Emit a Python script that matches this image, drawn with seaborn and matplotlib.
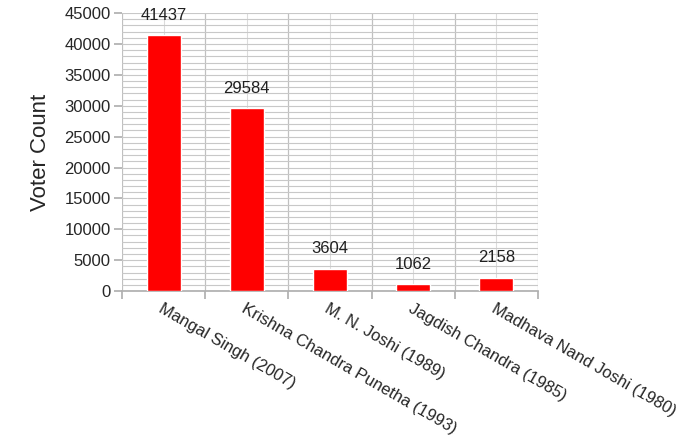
import numpy as np
import pandas as pd
import matplotlib
matplotlib.use("Agg")
import matplotlib.pyplot as plt
import matplotlib.ticker as mticker
import seaborn as sns

# ── Data ────────────────────────────────────────────────────────────────────
candidates = [
    "Mangal Singh (2007)",
    "Krishna Chandra Punetha (1993)",
    "M. N. Joshi (1989)",
    "Jagdish Chandra (1985)",
    "Madhava Nand Joshi (1980)",
]
votes = [41437, 29584, 3604, 1062, 2158]

df = pd.DataFrame({"Candidate": candidates, "Votes": votes})

sns.set_theme(style="white")
plt.rcParams["font.family"] = ["Liberation Sans", "DejaVu Sans"]

fig = plt.figure(figsize=(6.99, 4.37), dpi=100)
ax = fig.add_axes([0.1745, 0.334, 0.595, 0.636])

sns.barplot(data=df, x="Candidate", y="Votes", color="#ff0000",
            width=0.41, saturation=1, ax=ax, zorder=3)

ax.set_xlim(-0.5, len(candidates) - 0.5)
ax.set_ylim(0, 45000)

# grid: minor every 1000 on y, category centres and boundaries on x
ax.yaxis.set_major_locator(mticker.MultipleLocator(5000))
ax.yaxis.set_minor_locator(mticker.MultipleLocator(1000))
ax.grid(which="both", axis="y", color="#c8c8c8", linewidth=0.8, zorder=0)
bounds = np.arange(-0.5, len(candidates), 1.0)
for b in bounds:
    ax.axvline(b, color="#c0c0c0", linewidth=0.9, zorder=0)
for c in range(len(candidates)):
    ax.axvline(c, color="#dcdcdc", linewidth=0.8, zorder=0)

for s in ["top", "right", "left"]:
    ax.spines[s].set_visible(False)
ax.spines["bottom"].set_color("#b0b0b0")

ax.tick_params(axis="y", which="major", left=True, length=6, color="#b0b0b0",
               labelsize=12, pad=2)
ax.tick_params(axis="y", which="minor", left=False)

# x ticks at boundaries, labels at centres
ax.set_xticks(bounds, minor=False)
ax.set_xticklabels([])
ax.tick_params(axis="x", which="major", bottom=True, length=6, color="#b0b0b0")
ax.set_xticks(range(len(candidates)), minor=True)
ax.set_xticklabels(candidates, minor=True, rotation=-30, ha="left",
                   va="top", rotation_mode="anchor", fontsize=12)
ax.tick_params(axis="x", which="minor", bottom=False, pad=3)

ax.set_xlabel("")
ax.set_ylabel("Voter Count", fontsize=16, labelpad=10)

for i, v in enumerate(votes):
    ax.annotate(f"{v}", (i, v), xytext=(0, 9), textcoords="offset points",
                ha="center", va="bottom", fontsize=12, color="#202020")

fig.savefig("out.png", dpi=100)
